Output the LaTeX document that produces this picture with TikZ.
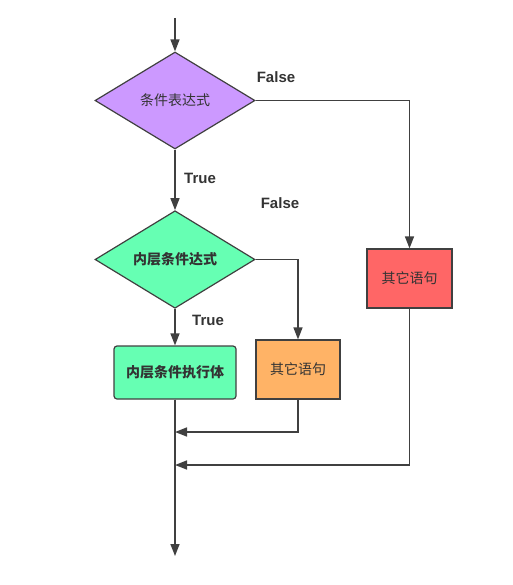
\documentclass[tikz,border=0pt]{standalone}
\usepackage{fontspec}
\setmainfont{Liberation Sans}
\newfontfamily\cjk{Noto Sans CJK SC}
\usetikzlibrary{arrows.meta, shapes.geometric}
\definecolor{linegray}{HTML}{404040}
\definecolor{textgray}{HTML}{333333}
\definecolor{condpurple}{HTML}{CC99FF}
\definecolor{innergreen}{HTML}{66FFB3}
\definecolor{elsered}{HTML}{FF6666}
\definecolor{elseorange}{HTML}{FFB366}
\tikzset{flow/.style = {draw=linegray, line width=1.5pt,
            -{Triangle[length=12pt,width=9pt]}},
    line/.style = {draw=linegray, line width=1.5pt},
    decision/.style = {diamond, draw=linegray, line width=1.2pt,
            minimum width=160pt, minimum height=97pt, inner sep=0pt,
            font=\cjk\fontsize{14}{16}\selectfont, text=textgray},
    stepbox/.style = {rectangle, draw=linegray, line width=1.2pt,
            minimum height=59pt, inner sep=0pt,
            font=\cjk\fontsize{14}{16}\selectfont, text=textgray},
    branch/.style = {font=\bfseries\fontsize{15}{17}\selectfont, text=textgray}}

\begin{document}
\begin{tikzpicture}[x=1pt, y=-1pt]
\useasboundingbox (0,0) rectangle (512,585);
% decisions
\node[decision, fill=condpurple] (cond) at (175,100.5) {条件表达式};
\node[decision, fill=innergreen] (inner) at (175,259.5) {\bfseries 内层条件达式};
% statements
\node[stepbox, fill=innergreen, rounded corners=3pt, minimum width=122pt,
      minimum height=53pt] (body) at (175,372.5) {\bfseries 内层条件执行体};
\node[stepbox, fill=elseorange, minimum width=84pt] (other) at (298,369.5) {其它语句};
\node[stepbox, fill=elsered, minimum width=85pt] (else) at (409.5,278.5) {其它语句};
% free ends
\coordinate (start) at (175,18);
\coordinate (stop) at (175,556);
\coordinate (joinA) at (175,432);
\coordinate (joinB) at (175,465);
% labels
\node[branch] (falseA) at (276,77) {False};
\node[branch] (trueA) at (200,178) {True};
\node[branch] (falseB) at (280,203) {False};
\node[branch] (trueB) at (208,320) {True};
% connectors
\draw[flow] (start) -- (cond.north);
\draw[flow] (cond.south) -- (inner.north);
\draw[flow] (cond.east) -| (else.north);
\draw[flow] (inner.south) -- (body.north);
\draw[flow] (inner.east) -| (other.north);
\draw[line] (body.south) -- (joinA);
\draw[flow] (body.south) -- (stop);
\draw[flow] (other.south) |- (joinA);
\draw[flow] (else.south) |- (joinB);
\end{tikzpicture}
\end{document}
